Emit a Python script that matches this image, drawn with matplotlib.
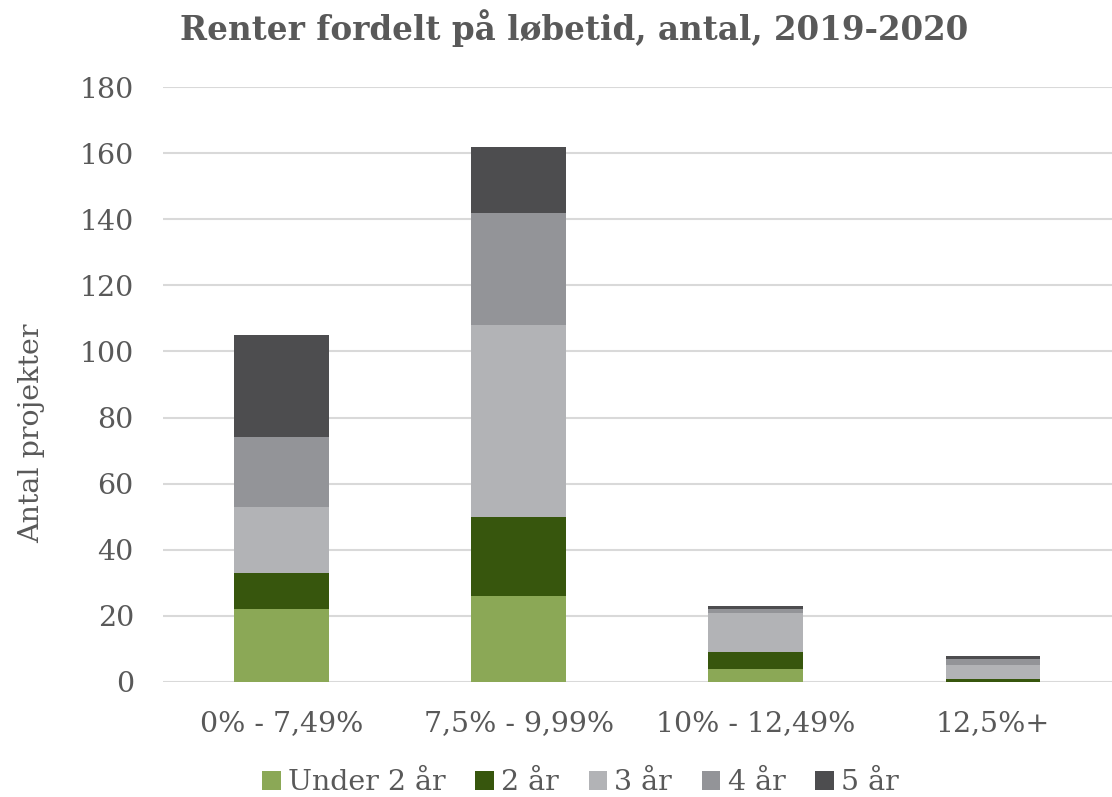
import numpy as np
import matplotlib.pyplot as plt

# Data
categories = ["0% - 7,49%", "7,5% - 9,99%", "10% - 12,49%", "12,5%+"]
series_names = ["Under 2 år", "2 år", "3 år", "4 år", "5 år"]
under_2 = [22, 26, 4, 0]
aar_2 = [11, 24, 5, 1]
aar_3 = [20, 58, 12, 4]
aar_4 = [21, 34, 1, 2]
aar_5 = [31, 20, 1, 1]
colors = ["#8BA856", "#37560D", "#B2B3B6", "#939498", "#4D4D4F"]

text_col = "#595959"
plt.rcParams['font.family'] = ['DejaVu Serif']

fig = plt.figure(figsize=(11.12, 7.97), dpi=100)
ax = fig.add_axes([0.1466, 0.1443, 0.853, 0.7465])

x = np.arange(len(categories))
bottom = np.zeros(len(categories))
for name, vals, c in zip(series_names, [under_2, aar_2, aar_3, aar_4, aar_5], colors):
    ax.bar(x, vals, width=0.40, bottom=bottom, color=c, label=name, zorder=3)
    bottom += np.array(vals)

ax.set_ylim(0, 180)
ax.set_xlim(-0.5, 3.5)
ax.set_yticks(np.arange(0, 181, 20))
ax.set_xticks(x)
ax.set_xticklabels(categories)
ax.grid(axis='y', color='#D9D9D9', linewidth=1.5, zorder=0)
for s in ax.spines.values():
    s.set_visible(False)
ax.tick_params(length=0, labelsize=20.5, colors=text_col)
ax.tick_params(axis='x', pad=20)
ax.tick_params(axis='y', pad=21)

ax.set_ylabel("Antal projekter", fontsize=20.5, color=text_col)
ax.yaxis.set_label_coords(-0.1245, 0.418)
fig.text(0.516, 0.965, "Renter fordelt på løbetid, antal, 2019-2020",
         ha='center', va='center', fontsize=23.5, fontweight='bold', color=text_col)

leg = fig.legend(loc='center', bbox_to_anchor=(0.522, 0.018), ncol=5, frameon=False,
                 fontsize=20.5, handlelength=0.65, handleheight=0.65, handletextpad=0.25,
                 columnspacing=1.05)
for t in leg.get_texts():
    t.set_color(text_col)

fig.savefig("out.png", dpi=100)
